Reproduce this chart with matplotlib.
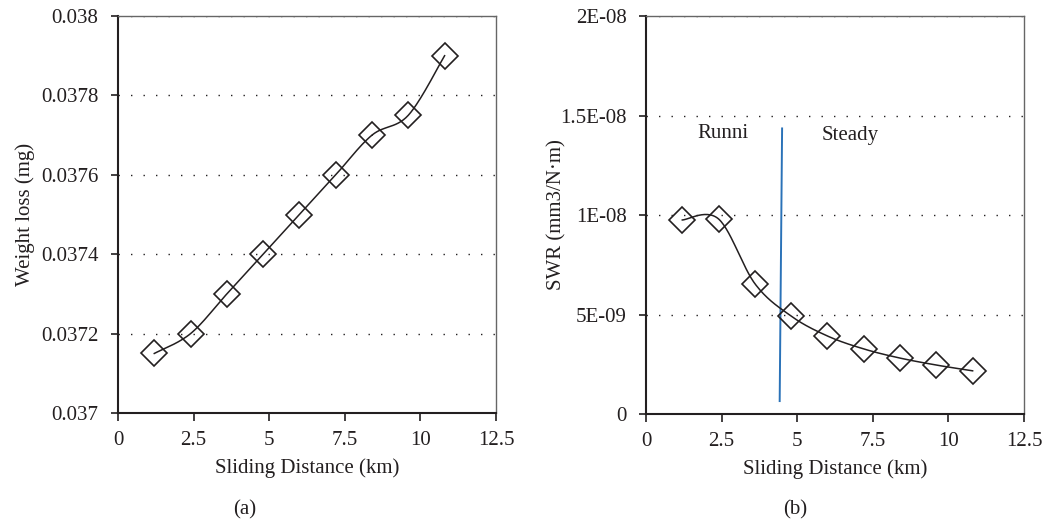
import numpy as np
import matplotlib
matplotlib.use("Agg")
import matplotlib.pyplot as plt
from matplotlib.ticker import FixedLocator, FixedFormatter

plt.rcParams['font.family'] = ['Liberation Serif', 'DejaVu Serif']

# ---- data ----
distance = [1.2, 2.4, 3.6, 4.8, 6.0, 7.2, 8.4, 9.6, 10.8]
weight_loss = [0.03715, 0.0372, 0.0373, 0.0374, 0.0375, 0.0376, 0.0377, 0.03775, 0.0379]
swr = [9.75e-9, 9.8e-9, 6.55e-9, 4.92e-9, 3.92e-9, 3.27e-9, 2.81e-9, 2.46e-9, 2.17e-9]

x_ticks = [0, 2.5, 5, 7.5, 10, 12.5]
x_ticklabels = ['0', '2.5', '5', '7.5', '10', '12.5']
wl_ticks = [0.037, 0.0372, 0.0374, 0.0376, 0.0378, 0.038]
wl_ticklabels = ['0.037', '0.0372', '0.0374', '0.0376', '0.0378', '0.038']
swr_ticks = [0, 5e-9, 1e-8, 1.5e-8, 2e-8]
swr_ticklabels = ['0', '5E-09', '1E-08', '1.5E-08', '2E-08']

divider_x = [4.5, 4.42]
divider_y = [1.435e-8, 0.065e-8]
regions = ['Runni', 'Steady']
region_x = [2.55, 6.75]
region_y = [1.41e-8, 1.40e-8]

TXT = '#231f20'
FS = 15


def smooth(x, y, n=30):
    """Catmull-Rom spline through the points (like a spreadsheet smoothed line)."""
    x = np.asarray(x, float)
    y = np.asarray(y, float)
    px = np.concatenate([[x[0]], x, [x[-1]]])
    py = np.concatenate([[y[0]], y, [y[-1]]])
    xs, ys = [], []
    t = np.linspace(0, 1, n)
    for i in range(1, len(px) - 2):
        p0, p1, p2, p3 = (np.array([px[j], py[j]]) for j in range(i - 1, i + 3))
        for tt in t:
            pt = 0.5 * ((2 * p1) + (-p0 + p2) * tt + (2 * p0 - 5 * p1 + 4 * p2 - p3) * tt ** 2
                        + (-p0 + 3 * p1 - 3 * p2 + p3) * tt ** 3)
            xs.append(pt[0]); ys.append(pt[1])
    return np.array(xs), np.array(ys)


fig = plt.figure(figsize=(10.46, 5.23), dpi=100)
ax1 = fig.add_axes([0.1128, 0.2103, 0.3614, 0.7591])
ax2 = fig.add_axes([0.6176, 0.2084, 0.3614, 0.7610])


def style(ax, yticks, ylabels, ylim, ylabel, label_x):
    ax.set_xlim(0, 12.5)
    ax.set_ylim(*ylim)
    ax.xaxis.set_major_locator(FixedLocator(x_ticks))
    ax.xaxis.set_major_formatter(FixedFormatter(x_ticklabels))
    ax.yaxis.set_major_locator(FixedLocator(yticks))
    ax.yaxis.set_major_formatter(FixedFormatter(ylabels))
    for v in yticks[1:]:
        ax.axhline(v, color='#231f20', lw=1.0, ls=(0, (1, 8)), zorder=1)
    for s in ['left', 'bottom']:
        ax.spines[s].set_linewidth(1.5)
        ax.spines[s].set_color('#231f20')
    for s in ['top', 'right']:
        ax.spines[s].set_linewidth(1.0)
        ax.spines[s].set_color('#666666')
    ax.tick_params(axis='y', direction='out', length=5, width=1.2, colors=TXT, labelsize=FS, pad=9)
    ax.tick_params(axis='x', direction='out', length=6, width=1.2, colors=TXT, labelsize=FS, pad=7)
    ax.set_xlabel('Sliding Distance (km)', fontsize=FS, color=TXT, labelpad=6)
    ax.set_ylabel(ylabel, fontsize=FS, color=TXT)
    ax.yaxis.set_label_coords(label_x, 0.5)


style(ax1, wl_ticks, wl_ticklabels, (0.037, 0.038), 'Weight loss (mg)', -0.219)
style(ax2, swr_ticks, swr_ticklabels, (0, 2e-8), 'SWR (mm3/N·m)', -0.211)

for ax, y in [(ax1, weight_loss), (ax2, swr)]:
    sx, sy = smooth(distance, y)
    ax.plot(sx, sy, color='#231f20', lw=1.1, zorder=3)
    ax.plot(distance, y, ls='none', marker='D', ms=13.5, mfc='none', mec='#231f20', mew=1.2, zorder=4)

ax2.plot(divider_x, divider_y, color='#2a72b8', lw=1.4, zorder=2)
for t, xx, yy in zip(regions, region_x, region_y):
    ax2.text(xx, yy, t, fontsize=FS, color=TXT, ha='center', va='center')

fig.text(0.2342, 0.026, '(a)', fontsize=FS, color=TXT, ha='center', va='center')
fig.text(0.7600, 0.026, '(b)', fontsize=FS, color=TXT, ha='center', va='center')

fig.savefig('out.png', dpi=100, facecolor='white')
